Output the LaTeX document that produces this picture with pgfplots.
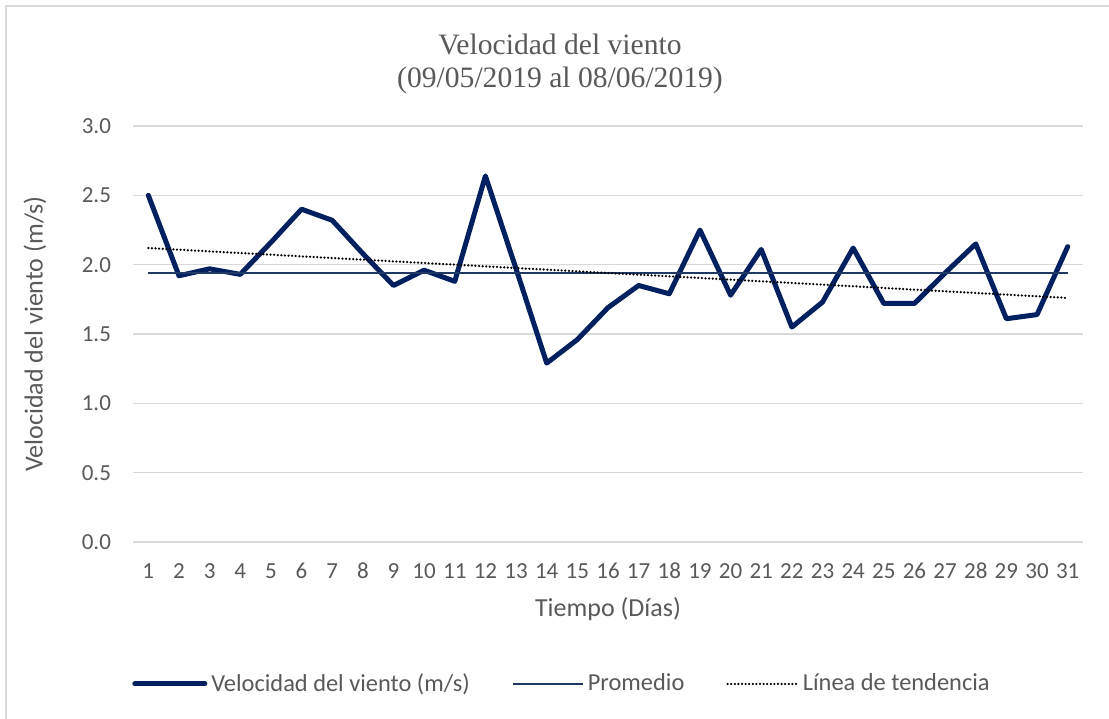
\documentclass[border=0pt]{standalone}
\usepackage{fontspec}
\setmainfont{Carlito}
\newfontfamily\titlefont{Liberation Serif}
\usepackage{pgfplots}
\pgfplotsset{compat=1.18}

\definecolor{navy}{HTML}{002060}
\definecolor{prom}{HTML}{1F3864}
\definecolor{txt}{HTML}{595959}
\definecolor{gridc}{HTML}{D9D9D9}

\begin{document}
\begin{tikzpicture}
\useasboundingbox (-66.5pt,-88pt) rectangle (488pt,271pt);
% outer chart frame (cut at right and bottom)
\draw[gridc, line width=0.8pt] (-63.5pt,-100pt) -- (-63.5pt,268pt) -- (500pt,268pt);
\node[font=\titlefont\fontsize{14.8}{16.5}\selectfont, text=txt, align=center] at (213.5pt,239pt)
  {Velocidad del viento\\(09/05/2019 al 08/06/2019)};
\begin{axis}[
  at={(0,0)}, anchor=south west,
  scale only axis, width=475pt, height=208pt,
  xmin=0.5, xmax=31.5, ymin=0, ymax=3,
  xtick={1,...,31}, ytick={0,0.5,...,3},
  yticklabel style={/pgf/number format/.cd, fixed, fixed zerofill, precision=1},
  /pgf/number format/assume math mode=true,
  axis line style={draw=none},
  major tick length=0pt,
  ymajorgrids, grid style={gridc, line width=0.75pt},
  tick label style={font=\fontsize{11.5}{13}\selectfont, text=txt},
  xticklabel style={text height=0.65em, text depth=0pt},
  xticklabel shift=8pt, yticklabel shift=7.5pt,
  label style={font=\fontsize{13}{15}\selectfont, text=txt},
  xlabel={Tiempo (Días)},
  xlabel style={at={(axis description cs:0.5,0)}, anchor=center, yshift=-33.5pt},
  ylabel={Velocidad del viento (m/s)},
  ylabel style={at={(axis description cs:-0.1032,0.5)}, anchor=center},
  legend columns=3,
  legend style={at={(axis description cs:0.4526,-0.3413)}, anchor=center, draw=none,
    font=\fontsize{12.2}{14}\selectfont, text=txt,
    /tikz/every even column/.append style={column sep=19pt}},
  legend image code/.code={\draw[#1] (0pt,0pt) -- (35pt,0pt);},
]
\addplot[navy, line width=2.5pt, line join=round, line cap=round] coordinates {
(1,2.50) (2,1.92) (3,1.97) (4,1.93) (5,2.16) (6,2.40) (7,2.32) (8,2.08)
(9,1.85) (10,1.96) (11,1.88) (12,2.64) (13,1.97) (14,1.29) (15,1.46) (16,1.69)
(17,1.85) (18,1.79) (19,2.25) (20,1.78) (21,2.11) (22,1.55) (23,1.73) (24,2.12)
(25,1.72) (26,1.72) (27,1.94) (28,2.15) (29,1.61) (30,1.64) (31,2.13)
};
\addlegendentry{Velocidad del viento (m/s)}
\addplot[prom, line width=1pt] coordinates {(1,1.94) (31,1.94)};
\addlegendentry{Promedio}
\addplot[black, line width=1.25pt, line cap=round, dash pattern=on 0pt off 1.8pt] coordinates {(1,2.12) (31,1.76)};
\addlegendentry{Línea de tendencia}
\end{axis}
\end{tikzpicture}
\end{document}
